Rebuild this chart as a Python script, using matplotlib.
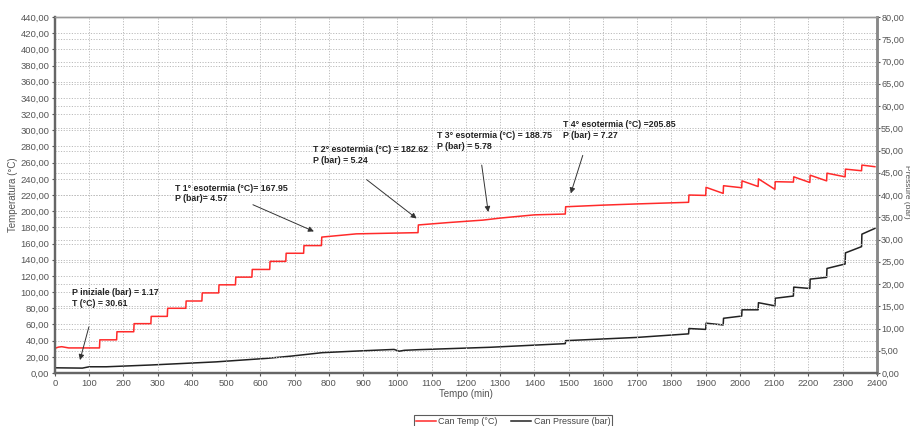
import matplotlib
matplotlib.use("Agg")
import matplotlib.pyplot as plt
from matplotlib.ticker import MultipleLocator, FuncFormatter

plt.rcParams['font.family'] = ['Liberation Sans', 'DejaVu Sans']

# ---- data ----
temp_time = [0, 10, 20, 40, 130, 131, 180, 181, 230, 231, 280, 281, 328, 329,
             382, 383, 429, 430, 478, 479, 527, 528, 575, 576, 627, 628, 674, 675,
             726, 727, 778, 779, 880, 1000, 1060, 1061, 1150, 1250, 1300, 1400,
             1490, 1491, 1600, 1700, 1850, 1851, 1900, 1901, 1951, 1952, 2005, 2006,
             2053, 2054, 2102, 2103, 2156, 2157, 2204, 2205, 2253, 2254, 2307, 2308,
             2355, 2356, 2394]
temp_val = [30.5, 32, 32.5, 31, 31, 41, 41, 51, 51, 61, 61, 70, 70, 80,
            80, 89, 89, 99, 99, 109, 109, 118.5, 118.5, 128, 128, 138, 138, 148,
            148, 157.5, 157.5, 168, 172, 173, 173.5, 183, 186, 189, 191.5, 195.5,
            196.5, 205.5, 207.5, 209, 211, 220, 219.5, 229.5, 222, 231.5, 229, 237.5,
            230.5, 240, 227, 236.5, 236, 242.5, 235.5, 244.5, 237.5, 247, 242.5, 252,
            250, 257, 255]

pres_time = [0, 80, 100, 150, 280, 470, 620, 690, 780, 900, 990, 1005, 1020, 1060,
             1270, 1490, 1491, 1700, 1850, 1851, 1900, 1901, 1951, 1952, 2005, 2006,
             2053, 2054, 2102, 2103, 2156, 2157, 2204, 2205, 2253, 2254, 2307, 2308,
             2355, 2356, 2394]
pres_val = [1.17, 1.1, 1.4, 1.4, 1.8, 2.5, 3.3, 3.8, 4.57, 5.0, 5.3, 4.9, 5.1, 5.24,
            5.78, 6.6, 7.27, 8.0, 8.8, 10.0, 9.8, 11.2, 10.8, 12.3, 12.8, 14.2,
            14.2, 15.8, 15.1, 16.8, 17.3, 19.3, 19.0, 21.1, 21.5, 23.5, 24.5, 27.0,
            28.4, 31.2, 32.5]

annot_texts = ["P iniziale (bar) = 1.17\nT (°C) = 30.61",
               "T 1° esotermia (°C)= 167.95\nP (bar)= 4.57",
               "T 2° esotermia (°C) = 182.62\nP (bar) = 5.24",
               "T 3° esotermia (°C) = 188.75\nP (bar) = 5.78",
               "T 4° esotermia (°C) =205.85\nP (bar) = 7.27"]
annot_text_pos = [(50, 105), (350, 234), (753, 282), (1115, 299), (1483, 313)]
annot_arrow_start = [(99, 57), (578, 208), (910, 239), (1246, 257), (1541, 269)]
annot_arrow_tip = [(73, 16), (756, 175), (1056, 191), (1265, 199), (1506, 222)]

assert len(temp_time) == len(temp_val)
assert len(pres_time) == len(pres_val)

fig = plt.figure(figsize=(9.1, 4.26), dpi=100)
ax = fig.add_axes([0.0604, 0.1244, 0.9033, 0.8356])
ax2 = ax.twinx()

comma = FuncFormatter(lambda v, p: f"{v:.2f}".replace('.', ','))

ax.set_xlim(0, 2400)
ax.set_ylim(0, 440)
ax2.set_ylim(0, 80)
ax.xaxis.set_major_locator(MultipleLocator(100))
ax.yaxis.set_major_locator(MultipleLocator(20))
ax2.yaxis.set_major_locator(MultipleLocator(5))
ax.yaxis.set_major_formatter(comma)
ax2.yaxis.set_major_formatter(comma)

grid_kw = dict(color='#bbbbbb', linestyle=(0, (1.2, 1.6)), linewidth=0.7)
ax.grid(True, axis='both', **grid_kw)
ax2.grid(True, axis='y', **grid_kw)
ax.set_axisbelow(True)
ax2.set_axisbelow(True)

for a in (ax, ax2):
    a.tick_params(labelsize=6.8, colors='#555555', length=2.5, width=0.8, pad=1.5)
    for s in a.spines.values():
        s.set_color('#666666')
    a.spines['left'].set_linewidth(1.6)
    a.spines['bottom'].set_linewidth(1.6)
    a.spines['right'].set_linewidth(1.8)
    a.spines['right'].set_color('#888888')
    a.spines['top'].set_linewidth(1.0)
    a.spines['top'].set_color('#999999')
ax2.tick_params(axis='y', labelsize=6.6, pad=1, length=2)

l2, = ax2.plot(pres_time, pres_val, color='#222222', linewidth=1.1, label='Can Pressure (bar)')
l1, = ax.plot(temp_time, temp_val, color='#ff2a2a', linewidth=1.1, label='Can Temp (°C)')
ax.set_zorder(ax2.get_zorder() + 1)
ax.patch.set_visible(False)

for txt, tp, st, tip in zip(annot_texts, annot_text_pos, annot_arrow_start, annot_arrow_tip):
    ax.text(tp[0], tp[1], txt, fontsize=6.3, fontweight='bold', color='#222222',
            va='top', ha='left', linespacing=1.25)
    ax.annotate('', xy=tip, xytext=st,
                arrowprops=dict(arrowstyle='-|>', color='#333333', lw=0.7,
                                mutation_scale=8, shrinkA=0, shrinkB=0))

ax.set_xlabel('Tempo (min)', fontsize=7, color='#555555', labelpad=1)
ax.set_ylabel('Temperatura (°C)', fontsize=7, color='#555555', labelpad=2)
fig.text(0.9965, 0.55, 'Pressure (bar)', rotation=270, fontsize=6, color='#555555',
         ha='center', va='center')

leg = fig.legend(handles=[l1, l2], loc='upper center', bbox_to_anchor=(0.564, 0.036),
                 ncol=2, fontsize=6.5, frameon=True, fancybox=False, handlelength=2.2,
                 borderpad=0.2, columnspacing=1.5, handletextpad=0.3)
leg.get_frame().set_edgecolor('#333333')
leg.get_frame().set_linewidth(0.8)
for t in leg.get_texts():
    t.set_color('#444444')

fig.savefig('out.png', dpi=100)
